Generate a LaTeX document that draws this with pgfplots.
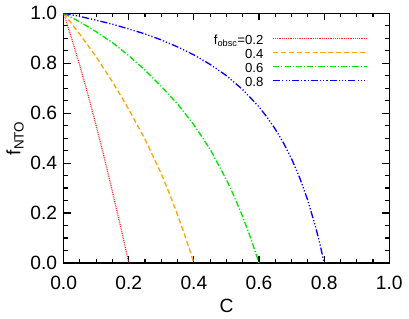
\documentclass[border=0pt]{standalone}
\usepackage{fontspec}
\setmainfont{Liberation Sans}
\usepackage{pgfplots}
\pgfplotsset{compat=1.18}
\definecolor{myorange}{RGB}{255,165,0}
\definecolor{mygreen}{RGB}{0,230,0}
\definecolor{myred}{RGB}{255,40,40}
\begin{document}
\fontsize{19}{22}\selectfont
\begin{tikzpicture}
\begin{axis}[
  scale only axis, width=322pt, height=247pt,
  xmin=0, xmax=1, ymin=0, ymax=1,
  xtick={0,0.2,0.4,0.6,0.8,1.0},
  ytick={0,0.2,0.4,0.6,0.8,1.0},
  minor tick num=3,
  tick align=inside,
  major tick length=7pt, minor tick length=4pt,
  axis line style={line width=1.3pt},
  every tick/.style={black, line width=1.1pt},
  /pgf/number format/assume math mode=true,
  /pgf/number format/.cd, fixed, fixed zerofill, precision=1, /pgfplots/.cd,
  xticklabel style={yshift=-6pt},
  xlabel={C},
  ylabel={f\textsubscript{NTO}},
  xlabel style={at={(axis description cs:0.5,0)}, anchor=center, yshift=-42pt},
  ylabel style={at={(axis description cs:0,0.5)}, anchor=center, xshift=0pt, yshift=48pt},
  legend cell align=right,
  legend plot pos=right,
  legend image code/.code={\draw[#1] (0pt,3.5pt) -- (93pt,3.5pt);},
  legend style={draw=none, fill=none, inner sep=0pt, column sep=9pt, row sep=0pt,
    at={(axis description cs:0.935,0.912)}, anchor=north east,
    nodes={inner sep=0pt, text height=9pt, text depth=4.7pt, font=\fontsize{13}{14}\selectfont}},
]
\addplot[color=myred, line width=1.2pt, dash pattern=on 0.9pt off 0.9pt] coordinates {
(0,1) (0.025,0.897) (0.05,0.789) (0.075,0.672) (0.1,0.55) (0.125,0.42) (0.15,0.285) (0.175,0.145) (0.2,0)};
\addlegendentry{f\textsubscript{obsc}=0.2}
\addplot[color=myorange, line width=1.3pt, dash pattern=on 5pt off 2.8pt] coordinates {
(0,1) (0.05,0.915) (0.1,0.825) (0.15,0.725) (0.2,0.615) (0.25,0.495) (0.3,0.357) (0.325,0.278) (0.35,0.192) (0.375,0.1) (0.4,0)};
\addlegendentry{0.4}
\addplot[color=mygreen, line width=1.3pt, dash pattern=on 6pt off 2pt on 1.2pt off 2pt] coordinates {
(0,1) (0.05,0.965) (0.1,0.926) (0.15,0.882) (0.2,0.83) (0.25,0.772) (0.3,0.707) (0.35,0.636) (0.4,0.553) (0.45,0.455) (0.5,0.333) (0.525,0.263) (0.55,0.185) (0.575,0.098) (0.6,0)};
\addlegendentry{0.6}
\addplot[color=blue, line width=1.3pt, dash pattern=on 7pt off 2pt on 1.2pt off 2pt on 1.2pt off 2pt on 1.2pt off 2pt] coordinates {
(0,1) (0.05,0.987) (0.1,0.972) (0.15,0.956) (0.2,0.937) (0.25,0.917) (0.3,0.893) (0.35,0.865) (0.4,0.833) (0.45,0.795) (0.5,0.75) (0.55,0.694) (0.6,0.625) (0.625,0.583) (0.65,0.536) (0.675,0.481) (0.7,0.417) (0.725,0.341) (0.75,0.25) (0.775,0.139) (0.7875,0.074) (0.8,0)};
\addlegendentry{0.8}
\end{axis}
\end{tikzpicture}
\end{document}
